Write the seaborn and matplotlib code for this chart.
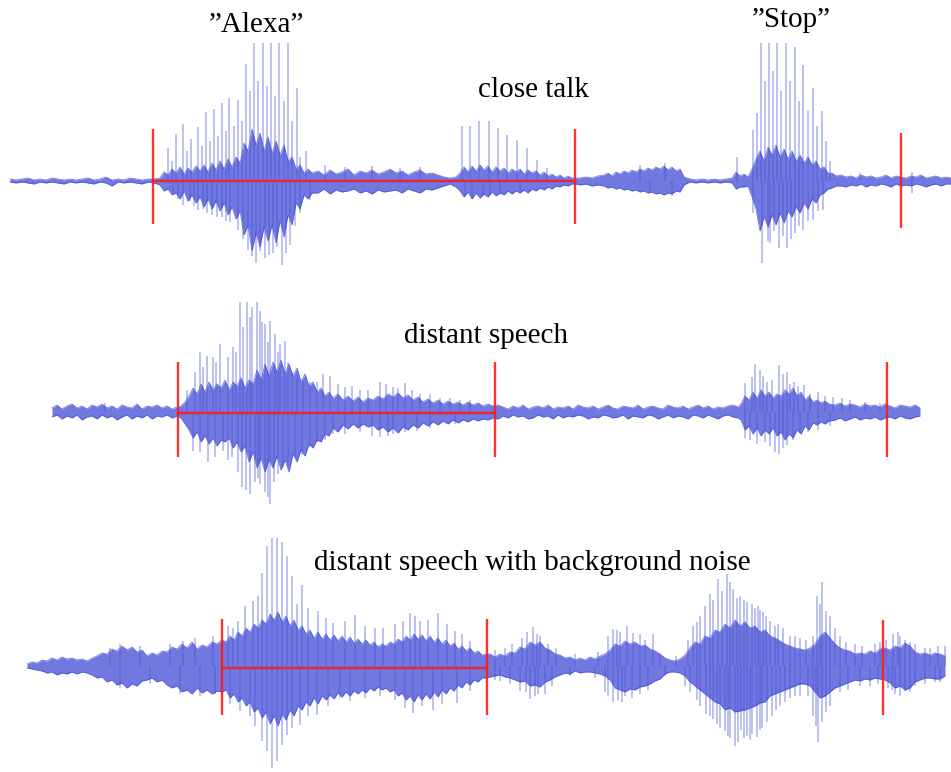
import numpy as np
import matplotlib
matplotlib.use("Agg")
import matplotlib.pyplot as plt
import seaborn as sns

# ---------------------------------------------------------------------------
# Close-talk recording: sample grid and upper / lower extent of the waveform
# ---------------------------------------------------------------------------
close_t = (list(range(10, 155, 6)) + list(range(160, 313, 4))
           + list(range(318, 457, 6)) + list(range(460, 577, 4))
           + list(range(580, 601, 6)) + list(range(604, 681, 4))
           + list(range(684, 733, 6)) + list(range(736, 837, 4))
           + list(range(841, 952, 5)))
close_hi = [
    2, 1, 2, 3, 1, 2, 1, 3, 2, 1, 2, 1, 2, 3, 1, 2, 4, 1, 2, 1, 3, 2, 1, 2, 2,
    3, 9, 6, 12, 8, 14, 7, 13, 9, 15, 10, 16, 9, 18, 11, 20, 12, 22, 14, 24,
    18, 38, 30, 52, 36, 48, 30, 44, 28, 40, 26, 36, 20, 24, 12, 16, 8, 12, 8,
    10, 6, 11, 7, 9, 12, 6, 10, 8, 11, 7, 9, 12, 8, 10, 6, 9, 11, 7, 8, 6, 4, 3, 4,
    8, 14, 9, 15, 10, 16, 11, 15, 9, 14, 10, 13, 8, 12, 9, 12, 7, 11, 8, 10,
    6, 9, 5, 7, 4, 6, 3, 5, 3, 3,
    3, 4, 3, 5,
    6, 8, 5, 9, 7, 10, 8, 11, 9, 12, 10, 13, 11, 14, 12, 15, 11, 14, 10, 12,
    4, 2, 1, 2, 1, 2, 1, 2, 3,
    9, 5, 7, 4, 12, 22, 30, 20, 34, 26, 36, 24, 32, 22, 30, 20, 26, 18, 24, 16,
    20, 12, 14, 8, 8, 5,
    6, 4, 5, 3, 6, 4, 5, 3, 4, 6, 3, 5, 4, 3, 5, 4, 6, 3, 4, 5, 3, 4, 3,
]
close_lo = [
    1, 2, 1, 2, 3, 1, 2, 1, 2, 3, 1, 2, 1, 2, 3, 1, 2, 5, 1, 2, 1, 2, 3, 1, 2,
    4, 10, 8, 14, 12, 18, 10, 20, 14, 22, 16, 26, 18, 28, 20, 30, 22, 34, 26, 38,
    30, 54, 44, 70, 52, 66, 46, 60, 44, 62, 40, 56, 34, 44, 22, 28, 14, 18, 12,
    12, 8, 13, 9, 11, 10, 8, 12, 10, 13, 9, 11, 10, 9, 12, 8, 10, 12, 8, 9, 7, 5, 3, 6,
    10, 16, 11, 18, 12, 17, 13, 16, 11, 15, 12, 14, 10, 13, 10, 12, 9, 12, 8, 10,
    7, 9, 6, 8, 5, 6, 4, 5, 3, 3,
    4, 3, 5, 4,
    5, 7, 6, 8, 7, 9, 8, 10, 9, 11, 10, 12, 11, 13, 12, 14, 12, 13, 10, 11,
    4, 1, 2, 1, 2, 1, 2, 1, 2,
    8, 6, 6, 5, 16, 28, 50, 36, 46, 34, 44, 32, 42, 30, 36, 26, 32, 22, 28, 18,
    22, 14, 12, 8, 7, 5,
    5, 6, 4, 5, 3, 6, 4, 5, 3, 4, 6, 3, 5, 4, 5, 3, 4, 6, 4, 3, 5, 3, 3,
]
close_up_spikes = [
    (168, 33), (172, 20), (176, 47), (183, 57), (187, 30), (191, 42), (198, 54),
    (202, 35), (206, 69), (210, 40), (214, 72), (218, 45), (222, 78), (226, 50),
    (229, 83), (234, 55), (238, 81), (242, 60), (246, 117), (250, 90),
    (254, 140), (258, 100), (263, 140), (267, 95), (271, 140), (275, 85),
    (279, 140), (284, 80), (288, 140), (292, 60), (297, 93), (300, 24),
    (306, 30), (325, 16), (345, 14), (372, 15), (400, 13), (420, 14),
    (462, 55), (470, 55), (479, 60), (489, 60), (498, 53), (507, 46), (517, 41),
    (527, 33), (537, 21), (547, 13), (640, 16), (665, 18),
    (737, 24), (753, 51), (757, 68), (761, 140), (765, 100), (769, 140),
    (773, 110), (777, 140), (781, 90), (786, 140), (790, 100), (795, 134),
    (799, 80), (803, 116), (808, 70), (813, 93), (817, 55), (822, 70),
    (826, 40), (830, 20), (860, 8), (912, 9),
]
close_dn_spikes = [
    (173, 12), (178, 18), (183, 24), (190, 20), (194, 25), (198, 29), (203, 28),
    (207, 32), (212, 34), (217, 36), (222, 36), (226, 40), (230, 41), (238, 49),
    (243, 58), (248, 69), (252, 75), (256, 82), (260, 70), (265, 77), (269, 74),
    (273, 72), (277, 66), (282, 84), (286, 72), (290, 64), (295, 45), (300, 32),
    (310, 19), (465, 16), (472, 18), (483, 15), (490, 14), (500, 12), (520, 11),
    (650, 12), (672, 15),
    (753, 32), (762, 82), (768, 60), (770, 62), (774, 50), (779, 67), (783, 55),
    (787, 67), (791, 58), (795, 52), (799, 45), (803, 49), (808, 40), (813, 39),
    (818, 30), (823, 29), (912, 12),
]
close_marks_t = [153, 575, 901]
close_marks_top = [52, 52, 48]
close_marks_bot = [43, 43, 47]

# ---------------------------------------------------------------------------
# Distant-speech recording
# ---------------------------------------------------------------------------
distant_t = (list(range(52, 178, 5)) + list(range(181, 330, 4))
             + list(range(333, 499, 5)) + list(range(503, 739, 5))
             + list(range(741, 830, 4)) + list(range(835, 921, 5)))
distant_hi = [
    4, 7, 3, 6, 8, 4, 6, 3, 7, 5, 8, 4, 6, 3, 7, 5, 4, 8, 3, 6, 5, 7, 4, 6, 3, 5,
    6, 10, 16, 24, 18, 28, 20, 30, 22, 28, 24, 32, 22, 30, 26, 34, 24, 32, 28, 42,
    32, 48, 36, 50, 40, 52, 38, 48, 36, 44, 30, 38, 26, 30, 20, 24, 16, 20,
    14, 18, 12, 16, 11, 15, 10, 14, 12, 16, 13, 18, 15, 19, 14, 17, 12, 15, 10, 13,
    9, 12, 8, 11, 8, 10, 7, 10, 7, 9, 6, 8, 6, 7,
    5, 3, 6, 4, 7, 3, 5, 6, 4, 7, 3, 5, 4, 6, 3, 7, 5, 4, 6, 3,
    5, 7, 4, 3, 6, 5, 4, 7, 3, 5, 6, 4, 3, 7, 5, 4, 6, 3, 5, 7, 4, 6, 3, 5, 4, 6, 7, 5,
    8, 16, 12, 20, 14, 22, 16, 20, 14, 18, 16, 22, 18, 24, 16, 20, 12, 16, 10, 12,
    9, 11, 8,
    7, 9, 6, 8, 7, 5, 8, 6, 7, 5, 8, 6, 4, 7, 6, 5, 7, 4,
]
distant_lo = [
    5, 3, 7, 4, 6, 3, 8, 5, 4, 7, 3, 6, 4, 8, 5, 3, 7, 4, 6, 3, 7, 4, 5, 3, 6, 4,
    6, 12, 18, 26, 20, 30, 24, 32, 26, 34, 28, 30, 26, 36, 30, 40, 34, 50, 40, 56,
    46, 60, 48, 56, 44, 58, 48, 60, 42, 50, 38, 44, 32, 36, 28, 30, 22, 24,
    16, 20, 13, 17, 12, 16, 12, 15, 13, 18, 15, 20, 16, 21, 15, 18, 13, 16, 11, 14,
    10, 13, 9, 12, 8, 11, 8, 10, 7, 9, 7, 8, 6, 7,
    4, 6, 3, 5, 4, 7, 6, 3, 5, 4, 7, 3, 6, 4, 5, 3, 4, 7, 5, 6,
    3, 4, 6, 5, 3, 7, 4, 5, 6, 3, 4, 7, 5, 3, 6, 4, 5, 7, 3, 4, 6, 3, 5, 7, 4, 3, 5, 6,
    8, 18, 14, 22, 16, 24, 18, 22, 16, 24, 20, 28, 22, 26, 18, 22, 14, 18, 11, 13,
    10, 12, 9,
    8, 6, 9, 7, 5, 8, 6, 7, 5, 8, 6, 5, 7, 4, 6, 7, 5, 4,
]
distant_up_spikes = [
    (105, 9), (187, 22), (195, 40), (200, 60), (203, 45), (207, 56), (213, 55),
    (216, 50), (220, 68), (228, 55), (233, 65), (236, 60), (240, 110), (243, 85),
    (247, 110), (250, 95), (252, 105), (257, 110), (260, 101), (262, 90),
    (265, 88), (268, 70), (270, 91), (275, 78), (278, 60), (280, 68), (285, 71),
    (288, 50), (292, 40), (297, 35), (303, 33), (310, 30), (317, 30), (323, 38),
    (330, 36), (338, 28), (345, 25), (352, 26), (360, 22), (368, 22), (380, 30),
    (386, 28), (393, 25), (398, 24), (405, 29), (412, 22), (420, 18), (430, 18),
    (440, 14), (450, 14), (460, 12), (470, 12),
    (745, 29), (752, 35), (755, 48), (760, 42), (763, 36), (767, 30), (772, 32),
    (779, 47), (783, 38), (787, 40), (790, 28), (794, 30), (798, 26), (804, 27),
    (810, 18), (818, 20), (825, 16), (833, 15), (842, 14), (850, 12), (865, 10),
    (880, 9),
]
distant_dn_spikes = [
    (193, 39), (200, 40), (208, 50), (215, 45), (223, 39), (228, 48), (232, 45),
    (238, 60), (242, 75), (246, 78), (250, 82), (255, 70), (258, 66), (260, 72),
    (265, 80), (268, 85), (270, 92), (274, 70), (278, 62), (283, 55), (288, 50),
    (295, 45), (302, 43), (310, 35), (317, 30), (325, 28), (333, 22), (345, 22),
    (360, 20), (372, 24), (380, 25), (388, 24), (393, 22), (405, 20), (417, 19),
    (430, 16), (455, 12),
    (745, 26), (750, 28), (757, 32), (765, 30), (770, 34), (775, 40), (779, 42),
    (783, 36), (787, 33), (793, 28), (800, 21), (808, 20), (818, 18), (830, 14),
]
distant_marks_t = [178, 495, 887]
distant_marks_top = [50, 50, 50]
distant_marks_bot = [45, 45, 45]

# ---------------------------------------------------------------------------
# Distant speech with background noise
# ---------------------------------------------------------------------------
noisy_t = (list(range(27, 223, 5)) + list(range(226, 487, 4))
           + list(range(490, 946, 5)))
noisy_hi = [
    2, 4, 3, 6, 5, 8, 6, 9, 7, 8, 6, 7, 5, 8, 10, 13, 12, 17, 15, 20,
    16, 19, 14, 16, 10, 13, 11, 15, 14, 19, 17, 22, 18, 24, 17, 21, 19, 24, 22, 26,
    24, 30, 26, 34, 30, 38, 34, 42, 38, 46, 42, 52, 46, 54, 44, 50, 40, 46, 36, 40,
    32, 36, 28, 34, 27, 32, 26, 31, 25, 30, 24, 29, 23, 27, 22, 26, 21, 24, 19, 22,
    20, 24, 22, 27, 24, 30, 26, 32, 27, 31, 25, 30, 24, 28, 22, 26, 20, 23, 17, 20,
    15, 18, 13, 15, 11, 12,
    12, 9, 12, 10, 14, 13, 19, 17, 24, 21, 24, 18, 16, 12, 11, 8, 9, 6, 8, 6,
    9, 7, 10, 12, 16, 22, 20, 25, 22, 24, 20, 21, 17, 15, 12, 8, 6, 5, 7, 11,
    18, 24, 22, 30, 28, 36, 34, 42, 38, 46, 40, 44, 38, 40, 34, 36, 30, 28, 25, 22,
    20, 18, 17, 16, 18, 22, 30, 34, 28, 22, 18, 16, 15, 12, 13, 12, 15, 13, 17, 18,
    16, 20, 18, 23, 20, 14, 12, 13, 11, 13, 12, 10,
]
noisy_lo = [
    2, 3, 4, 5, 7, 6, 9, 7, 8, 6, 8, 6, 7, 9, 12, 11, 16, 14, 19, 17,
    22, 18, 20, 15, 14, 12, 16, 14, 19, 22, 20, 26, 24, 28, 22, 27, 24, 28, 25, 26,
    24, 32, 28, 36, 32, 40, 36, 46, 42, 52, 46, 58, 50, 60, 48, 54, 44, 50, 40, 44,
    36, 40, 32, 38, 30, 34, 29, 33, 27, 31, 26, 30, 25, 28, 24, 27, 22, 25, 21, 24,
    22, 26, 24, 30, 27, 34, 30, 36, 29, 34, 28, 33, 26, 31, 24, 28, 22, 25, 19, 22,
    16, 19, 14, 16, 12, 12,
    11, 10, 9, 11, 12, 14, 16, 15, 20, 19, 21, 16, 14, 11, 9, 7, 8, 5, 7, 6,
    6, 7, 8, 10, 14, 22, 24, 26, 23, 24, 21, 20, 18, 15, 13, 8, 6, 6, 7, 10,
    16, 20, 24, 28, 32, 36, 38, 44, 42, 46, 45, 44, 42, 40, 37, 36, 30, 28, 26, 24,
    22, 20, 18, 18, 20, 26, 32, 30, 26, 22, 20, 18, 16, 14, 15, 13, 14, 12, 13, 14,
    17, 22, 20, 24, 22, 16, 14, 12, 12, 13, 13, 10,
]
noisy_up_spikes = [
    (110, 18), (120, 22), (140, 20), (170, 22), (183, 25), (195, 28), (213, 30),
    (228, 40), (233, 38), (238, 45), (245, 60), (253, 65), (258, 70), (262, 93),
    (267, 120), (272, 128), (277, 128), (282, 124), (287, 110), (292, 90),
    (297, 62), (302, 81), (308, 58), (318, 55), (326, 48), (333, 43), (345, 45),
    (355, 51), (365, 40), (375, 38), (383, 38), (395, 42), (403, 45), (410, 53),
    (415, 50), (420, 45), (428, 46), (438, 53), (447, 42), (455, 35), (462, 32),
    (470, 25), (495, 16), (505, 18), (512, 22), (522, 28), (527, 34), (533, 39),
    (537, 32), (540, 30), (548, 22), (556, 18), (575, 12), (598, 14), (608, 30),
    (613, 37), (617, 36), (620, 34), (627, 40), (633, 33), (640, 32), (645, 26),
    (653, 32), (660, 12), (676, 10), (688, 26), (693, 40), (697, 44), (700, 50),
    (705, 60), (710, 72), (713, 66), (718, 87), (722, 75), (727, 92), (730, 84),
    (733, 77), (737, 68), (740, 70), (744, 66), (747, 64), (752, 62), (755, 58),
    (758, 60), (760, 56), (763, 54), (766, 50), (770, 45), (775, 40), (778, 42),
    (783, 38), (790, 30), (795, 30), (800, 28), (806, 26), (813, 30), (817, 70),
    (820, 62), (822, 84), (826, 55), (830, 50), (835, 38), (840, 30), (846, 24),
    (855, 22), (862, 20), (875, 22), (880, 24), (886, 26), (893, 32), (898, 34),
    (900, 30), (905, 26), (910, 24), (915, 22), (925, 18), (930, 18), (938, 20),
    (945, 20),
]
noisy_dn_spikes = [
    (120, 22), (150, 18), (180, 28), (200, 30), (215, 28), (230, 38), (240, 45),
    (250, 50), (255, 60), (262, 75), (267, 85), (272, 102), (277, 95), (282, 79),
    (287, 69), (292, 62), (300, 59), (308, 50), (317, 49), (328, 40), (340, 32),
    (350, 35), (365, 32), (380, 30), (395, 34), (405, 42), (413, 47), (422, 40),
    (433, 44), (442, 38), (457, 37), (470, 25), (495, 14), (500, 15), (510, 18),
    (520, 25), (526, 26), (530, 33), (535, 30), (538, 28), (545, 28), (552, 20),
    (570, 10), (595, 12), (605, 26), (608, 30), (613, 36), (618, 34), (622, 36),
    (625, 30), (632, 32), (640, 28), (648, 24), (665, 10), (685, 20), (690, 26),
    (697, 34), (700, 40), (706, 48), (710, 50), (713, 53), (717, 58), (720, 62),
    (725, 65), (728, 70), (730, 72), (735, 80), (738, 76), (741, 64), (744, 72),
    (747, 70), (750, 74), (752, 68), (757, 71), (760, 64), (762, 62), (767, 56),
    (772, 50), (776, 44), (780, 40), (785, 36), (790, 32), (795, 30), (800, 30),
    (808, 30), (813, 50), (816, 60), (818, 76), (822, 56), (826, 46), (830, 40),
    (840, 26), (848, 24), (860, 20), (870, 20), (878, 18), (888, 22), (892, 24),
    (895, 28), (900, 30), (905, 25), (910, 26), (915, 20), (925, 18), (935, 16),
    (940, 16),
]
noisy_marks_t = [222, 487, 883]
noisy_marks_top = [47, 47, 46]
noisy_marks_bot = [49, 49, 49]

row_titles = ["close talk", "distant speech",
              "distant speech with background noise"]
word_labels = ["\u201dAlexa\u201d", "\u201dStop\u201d"]

# ---------------------------------------------------------------------------
# Styling
# ---------------------------------------------------------------------------
sns.set_theme(style="white")
plt.rcParams["font.family"] = ["Liberation Serif", "DejaVu Serif"]

CORE = "#7178df"
EDGE = "#3c48d2"
SPIKE = "#4652d8"
RED = "#ff1a1a"

W, H = 951, 772
fig = plt.figure(figsize=(W / 100, H / 100), dpi=100)


def row_axes(top_px, bottom_px, up, down):
    ax = fig.add_axes([0, 1 - bottom_px / H, 1, (bottom_px - top_px) / H])
    ax.set_xlim(0, W)
    ax.set_ylim(-down, up)
    ax.axis("off")
    ax.patch.set_alpha(0)
    return ax


def draw_wave(ax, t, hi, lo, up_spikes, dn_spikes, marks_t, marks_top,
              marks_bot, seg_level):
    assert len(t) == len(hi) == len(lo)
    t = np.asarray(t, dtype=float)
    hi = np.asarray(hi, dtype=float)
    lo = np.asarray(lo, dtype=float)
    ax.fill_between(t, hi, -lo, color=CORE, lw=0, zorder=2)
    sns.lineplot(x=t, y=hi, ax=ax, color=EDGE, lw=0.6, alpha=0.7,
                 estimator=None, sort=False, zorder=3)
    sns.lineplot(x=t, y=-lo, ax=ax, color=EDGE, lw=0.6, alpha=0.7,
                 estimator=None, sort=False, zorder=3)
    ut, uh = zip(*up_spikes)
    ax.vlines(ut, 0, uh, color=SPIKE, alpha=0.42, lw=1.2, zorder=2)
    dt, dl = zip(*dn_spikes)
    ax.vlines(dt, -np.array(dl), 0, color=SPIKE, alpha=0.42, lw=1.2, zorder=2)
    ax.vlines(marks_t, -np.array(marks_bot), marks_top, color=RED, lw=1.7,
              alpha=0.9, zorder=4)
    sns.lineplot(x=marks_t[:2], y=[seg_level, seg_level], ax=ax, color=RED,
                 lw=1.7, alpha=0.9, estimator=None, sort=False, zorder=4)


ax1 = row_axes(43, 319, 138, 138)
draw_wave(ax1, close_t, close_hi, close_lo, close_up_spikes, close_dn_spikes,
          close_marks_t, close_marks_top, close_marks_bot, 0)

ax2 = row_axes(302, 520, 110, 108)
draw_wave(ax2, distant_t, distant_hi, distant_lo, distant_up_spikes,
          distant_dn_spikes, distant_marks_t, distant_marks_top,
          distant_marks_bot, -1)

ax3 = row_axes(538, 772, 128, 106)
draw_wave(ax3, noisy_t, noisy_hi, noisy_lo, noisy_up_spikes, noisy_dn_spikes,
          noisy_marks_t, noisy_marks_top, noisy_marks_bot, -2)

# Labels
fs = 21
text_kw = dict(ha="center", va="baseline", fontsize=fs, color="black")
fig.text(257 / W, 1 - 32 / H, word_labels[0], **text_kw)
fig.text(791 / W, 1 - 27 / H, word_labels[1], **text_kw)
fig.text(533 / W, 1 - 97 / H, row_titles[0], **text_kw)
fig.text(486 / W, 1 - 343 / H, row_titles[1], **text_kw)
fig.text(532 / W, 1 - 570 / H, row_titles[2], **text_kw)

fig.savefig("out.png", dpi=100)
